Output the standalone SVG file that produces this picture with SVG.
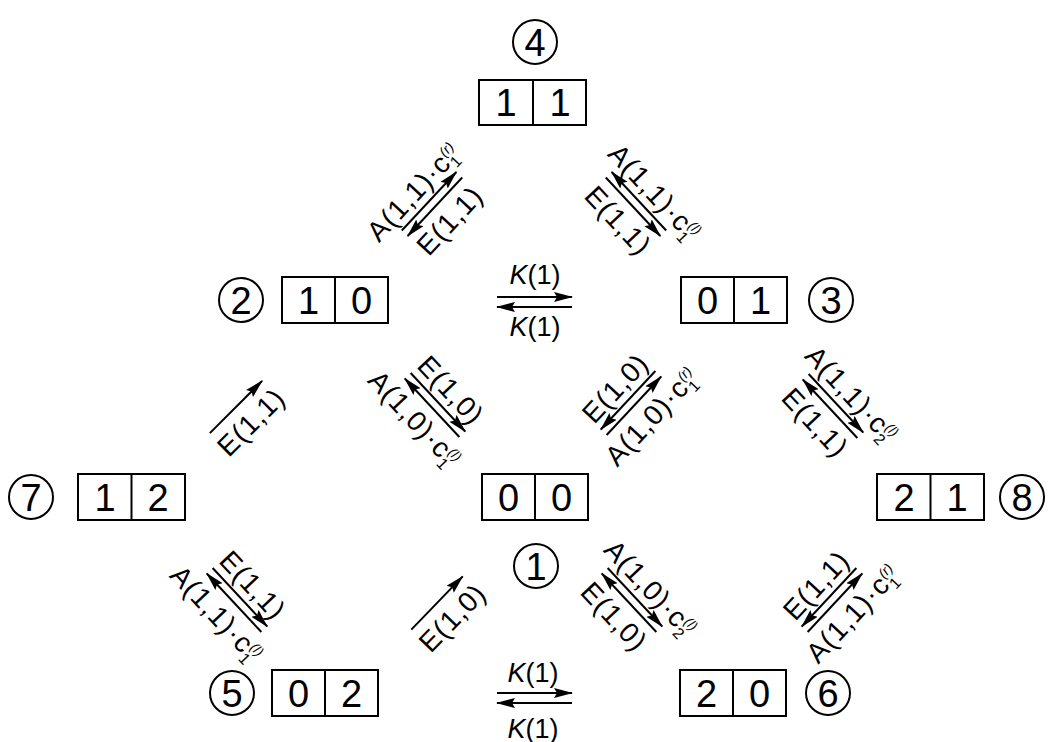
<svg xmlns="http://www.w3.org/2000/svg" width="1053" height="742" viewBox="0 0 1053 742">
<defs>
<marker id="h" markerUnits="userSpaceOnUse" markerWidth="20" markerHeight="11" refX="18" refY="5" orient="auto">
<path d="M0,0 L19,5 L0,10 L3,5 z" fill="#000"/>
</marker>
</defs>
<style>
.b{fill:#fff;stroke:#000;stroke-width:2}
.c{fill:none;stroke:#000;stroke-width:2}
.d{stroke:#000;stroke-width:2}
.n{font-family:"Liberation Sans",Arial,sans-serif;font-size:38px;text-anchor:middle;fill:#000}
.l{font-family:"Liberation Sans",Arial,sans-serif;font-size:28px;text-anchor:middle;letter-spacing:1px;fill:#000}
.k{font-family:"Liberation Sans",Arial,sans-serif;font-size:27px;text-anchor:middle;fill:#000}
.a{stroke:#000;stroke-width:2;marker-end:url(#h)}
.s{font-size:16px;letter-spacing:0}
.p{font-size:14px;font-style:italic;letter-spacing:0}
.i{font-style:italic}
</style>

<g id="node4">
<circle class="c" cx="535" cy="42" r="22"/><text class="n" x="535" y="55.6">4</text>
<rect class="b" x="479" y="80" width="107" height="45"/><line class="d" x1="533" y1="80" x2="533" y2="125"/>
<text class="n" x="506" y="116">1</text><text class="n" x="560" y="116">1</text>
</g>
<g id="node2">
<circle class="c" cx="241" cy="300" r="22"/><text class="n" x="241" y="313.6">2</text>
<rect class="b" x="282" y="277" width="106" height="46"/><line class="d" x1="335" y1="277" x2="335" y2="323"/>
<text class="n" x="308.5" y="313.6">1</text><text class="n" x="361.5" y="313.6">0</text>
</g>
<g id="node3">
<rect class="b" x="681" y="277" width="106" height="46"/><line class="d" x1="734" y1="277" x2="734" y2="323"/>
<text class="n" x="707.5" y="313.6">0</text><text class="n" x="760.5" y="313.6">1</text>
<circle class="c" cx="831" cy="300" r="22"/><text class="n" x="831" y="313.6">3</text>
</g>
<g id="node7">
<circle class="c" cx="31" cy="497" r="22"/><text class="n" x="31" y="510.6">7</text>
<rect class="b" x="78" y="474" width="107" height="46"/><line class="d" x1="131.5" y1="474" x2="131.5" y2="520"/>
<text class="n" x="105" y="510.6">1</text><text class="n" x="158" y="510.6">2</text>
</g>
<g id="node1">
<rect class="b" x="482" y="474" width="106" height="46"/><line class="d" x1="535" y1="474" x2="535" y2="520"/>
<text class="n" x="508.5" y="510.6">0</text><text class="n" x="561.5" y="510.6">0</text>
<circle class="c" cx="536" cy="566" r="22"/><text class="n" x="536" y="579.6">1</text>
</g>
<g id="node8">
<rect class="b" x="877" y="474" width="107" height="46"/><line class="d" x1="930.5" y1="474" x2="930.5" y2="520"/>
<text class="n" x="904" y="510.6">2</text><text class="n" x="957" y="510.6">1</text>
<circle class="c" cx="1022" cy="497" r="22"/><text class="n" x="1022" y="510.6">8</text>
</g>
<g id="node5">
<circle class="c" cx="232" cy="693" r="22"/><text class="n" x="232" y="706.6">5</text>
<rect class="b" x="272" y="670" width="106" height="46"/><line class="d" x1="325" y1="670" x2="325" y2="716"/>
<text class="n" x="298.5" y="706.6">0</text><text class="n" x="351.5" y="706.6">2</text>
</g>
<g id="node6">
<rect class="b" x="680" y="670" width="106" height="46"/><line class="d" x1="733" y1="670" x2="733" y2="716"/>
<text class="n" x="706.5" y="706.6">2</text><text class="n" x="759.5" y="706.6">0</text>
<circle class="c" cx="828" cy="693" r="22"/><text class="n" x="828" y="706.6">6</text>
</g>

<g id="connectors">
<g id="e2-4" transform="translate(432,204) rotate(-47)">
<line class="a" x1="-40" y1="-4" x2="40" y2="-4"/><line class="a" x1="40" y1="4" x2="-40" y2="4"/>
<text class="l" x="-4" y="-12">A(1,1)·c<tspan class="s" dy="6">1</tspan><tspan class="p" dx="-9" dy="-16">(r)</tspan></text>
<text class="l" x="0" y="34">E(1,1)</text>
</g>
<g id="e3-4" transform="translate(636,204) rotate(47)">
<line class="a" x1="40" y1="-4" x2="-40" y2="-4"/><line class="a" x1="-40" y1="4" x2="40" y2="4"/>
<text class="l" x="4" y="-12">A(1,1)·c<tspan class="s" dy="6">1</tspan><tspan class="p" dx="-9" dy="-16">(l)</tspan></text>
<text class="l" x="0" y="34">E(1,1)</text>
</g>
<g id="e2-3">
<line class="a" x1="497" y1="297" x2="572" y2="297"/><line class="a" x1="572" y1="307" x2="497" y2="307"/>
<text class="k" x="535" y="284"><tspan class="i">K</tspan>(1)</text>
<text class="k" x="535" y="336"><tspan class="i">K</tspan>(1)</text>
</g>
<g id="e7-2" transform="translate(236,407) rotate(-45)">
<line class="a" x1="-37" y1="0" x2="37" y2="0"/>
<text class="l" x="0" y="31">E(1,1)</text>
</g>
<g id="e1-2" transform="translate(435,405) rotate(47)">
<line class="a" x1="-40" y1="-4" x2="40" y2="-4"/><line class="a" x1="40" y1="4" x2="-40" y2="4"/>
<text class="l" x="0" y="-12">E(1,0)</text>
<text class="l" x="-4" y="34">A(1,0)·c<tspan class="s" dy="6">1</tspan><tspan class="p" dx="-9" dy="-16">(l)</tspan></text>
</g>
<g id="e1-3" transform="translate(631,403) rotate(-47)">
<line class="a" x1="40" y1="-4" x2="-40" y2="-4"/><line class="a" x1="-40" y1="4" x2="40" y2="4"/>
<text class="l" x="0" y="-12">E(1,0)</text>
<text class="l" x="4" y="34">A(1,0)·c<tspan class="s" dy="6">1</tspan><tspan class="p" dx="-9" dy="-16">(r)</tspan></text>
</g>
<g id="e3-8" transform="translate(833,406) rotate(47)">
<line class="a" x1="-40" y1="-4" x2="40" y2="-4"/><line class="a" x1="40" y1="4" x2="-40" y2="4"/>
<text class="l" x="4" y="-12">A(1,1)·c<tspan class="s" dy="6">2</tspan><tspan class="p" dx="-9" dy="-16">(l)</tspan></text>
<text class="l" x="0" y="34">E(1,1)</text>
</g>
<g id="e5-7" transform="translate(237,600) rotate(47)">
<line class="a" x1="-40" y1="-4" x2="40" y2="-4"/><line class="a" x1="40" y1="4" x2="-40" y2="4"/>
<text class="l" x="0" y="-12">E(1,1)</text>
<text class="l" x="-4" y="34">A(1,1)·c<tspan class="s" dy="6">1</tspan><tspan class="p" dx="-9" dy="-16">(l)</tspan></text>
</g>
<g id="e5-1" transform="translate(437,603) rotate(-46)">
<line class="a" x1="-37" y1="0" x2="37" y2="0"/>
<text class="l" x="0" y="31">E(1,0)</text>
</g>
<g id="e1-6" transform="translate(632,600) rotate(47)">
<line class="a" x1="-40" y1="-4" x2="40" y2="-4"/><line class="a" x1="40" y1="4" x2="-40" y2="4"/>
<text class="l" x="4" y="-12">A(1,0)·c<tspan class="s" dy="6">2</tspan><tspan class="p" dx="-9" dy="-16">(l)</tspan></text>
<text class="l" x="0" y="34">E(1,0)</text>
</g>
<g id="e6-8" transform="translate(832,600) rotate(-47)">
<line class="a" x1="40" y1="-4" x2="-40" y2="-4"/><line class="a" x1="-40" y1="4" x2="40" y2="4"/>
<text class="l" x="0" y="-12">E(1,1)</text>
<text class="l" x="4" y="34">A(1,1)·c<tspan class="s" dy="6">1</tspan><tspan class="p" dx="-9" dy="-16">(r)</tspan></text>
</g>
<g id="e5-6">
<line class="a" x1="497" y1="693" x2="572" y2="693"/><line class="a" x1="572" y1="703" x2="497" y2="703"/>
<text class="k" x="533" y="682"><tspan class="i">K</tspan>(1)</text>
<text class="k" x="533" y="738"><tspan class="i">K</tspan>(1)</text>
</g>
</g>
</svg>
